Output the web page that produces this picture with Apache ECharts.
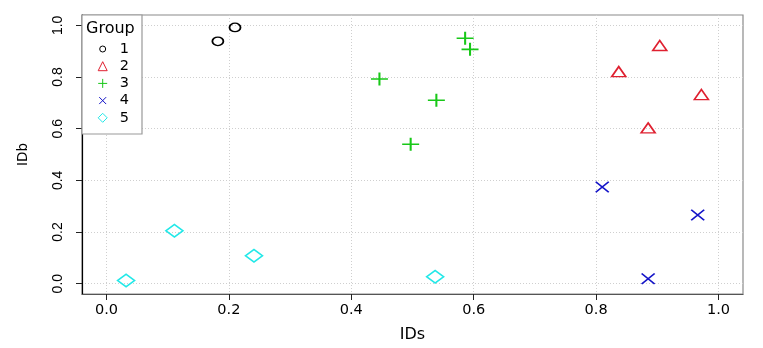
<!DOCTYPE html>
<html>
<head>
<meta charset="utf-8">
<script src="https://cdn.jsdelivr.net/npm/echarts@6/dist/echarts.min.js"></script>
<style>
  html, body { margin: 0; padding: 0; background: #fff; }
  #chart { width: 763px; height: 348px; }
</style>
</head>
<body>
<div id="chart"></div>
<script>
// values
var groups = ['1', '2', '3', '4', '5'];
var g1x = [0.182, 0.210];
var g1y = [0.938, 0.992];
var g2x = [0.837, 0.904, 0.972, 0.885];
var g2y = [0.821, 0.922, 0.732, 0.603];
var g3x = [0.446, 0.497, 0.539, 0.586, 0.594];
var g3y = [0.792, 0.540, 0.710, 0.950, 0.907];
var g4x = [0.810, 0.885, 0.966];
var g4y = [0.374, 0.019, 0.266];
var g5x = [0.032, 0.111, 0.241, 0.537];
var g5y = [0.012, 0.205, 0.108, 0.027];
var xTicks = [0, 0.2, 0.4, 0.6, 0.8, 1.0];
var yTicks = [0, 0.2, 0.4, 0.6, 0.8, 1.0];

var FONT = 'DejaVu Sans';

// R-like pch shapes
var shapes = {
    circle: 'path://M0,-1 A1,1 0 1,1 0,1 A1,1 0 1,1 0,-1 Z',
    triangle: 'path://M0,-1 L1,1 L-1,1 Z',
    plus: 'path://M0,-1 L0,1 M-1,0 L1,0',
    cross: 'path://M-1,-1 L1,1 M-1,1 L1,-1',
    diamond: 'path://M0,-1 L1,0 L0,1 L-1,0 Z'
};

// legend keys are smaller for circle and x, padded with invisible move points
var legendIcons = [
    'path://M-1.7,-1.5 M1.7,1.5 M0,-1 A1,1 0 1,1 0,1 A1,1 0 1,1 0,-1 Z',
    'path://M0,-1 L1,1 L-1,1 Z',
    'path://M0,-1 L0,1 M-1,0 L1,0',
    'path://M-1.5,-1.3 M1.5,1.3 M-1,-1 L1,1 M-1,1 L1,-1',
    'path://M0,-1 L1,0 L0,1 L-1,0 Z'
];

function pairs(xs, ys) {
    return xs.map(function (x, i) { return [x, ys[i]]; });
}

function makeSeries(name, xs, ys, symbol, size, color, width) {
    return {
        name: name,
        type: 'scatter',
        data: pairs(xs, ys),
        symbol: symbol,
        symbolSize: size,
        symbolKeepAspect: false,
        itemStyle: {
            color: 'transparent',
            borderColor: color,
            borderWidth: width,
            opacity: 1
        },
        emphasis: {disabled: true}
    };
}

var series = [
    makeSeries('1', g1x, g1y, shapes.circle, [11, 8.5], '#000000', 1.6),
    makeSeries('2', g2x, g2y, shapes.triangle, [14, 10], '#DF2030', 1.6),
    makeSeries('3', g3x, g3y, shapes.plus, [17, 13], '#18C818', 1.8),
    makeSeries('4', g4x, g4y, shapes.cross, [13, 10.5], '#1414C8', 1.6),
    makeSeries('5', g5x, g5y, shapes.diamond, [17, 12.5], '#22E8E8', 1.6)
];

var chart = echarts.init(document.getElementById('chart'));
chart.setOption({
    animation: false,
    backgroundColor: '#fff',
    grid: {
        left: 82, right: 20, top: 15, bottom: 54,
        show: true, borderColor: '#8a8a8a', borderWidth: 1.2,
        backgroundColor: 'transparent'
    },
    xAxis: {
        type: 'value',
        min: -0.04, max: 1.04,
        name: 'IDs',
        nameLocation: 'middle',
        nameGap: 33,
        nameTextStyle: {fontFamily: FONT, fontSize: 16, color: '#000'},
        axisLine: {show: true, onZero: false, lineStyle: {color: '#555', width: 1.2}},
        axisTick: {show: true, length: 6, customValues: xTicks, lineStyle: {color: '#222'}},
        axisLabel: {
            customValues: xTicks, margin: 9,
            fontFamily: FONT, fontSize: 14.5, color: '#000',
            formatter: function (v) { return v.toFixed(1); }
        },
        splitLine: {show: true, lineStyle: {color: '#cfcfcf', type: [1, 2], width: 1}}
    },
    yAxis: {
        type: 'value',
        min: -0.04, max: 1.04,
        name: 'IDb',
        nameLocation: 'middle',
        nameGap: 52,
        nameRotate: 90,
        nameTextStyle: {fontFamily: FONT, fontSize: 13.5, color: '#000'},
        axisLine: {show: true, onZero: false, lineStyle: {color: '#000', width: 1.2}},
        axisTick: {show: true, length: 6, customValues: yTicks, lineStyle: {color: '#222'}},
        axisLabel: {
            customValues: yTicks, rotate: 90, margin: 17,
            fontFamily: 'Liberation Sans', fontSize: 14, color: '#000',
            formatter: function (v) { return v.toFixed(1); }
        },
        splitLine: {show: true, lineStyle: {color: '#cfcfcf', type: [1, 2], width: 1}}
    },
    legend: {
        orient: 'vertical',
        left: 97, top: 41,
        padding: 0,
        z: 4,
        itemWidth: 12, itemHeight: 9,
        itemGap: 1.2,
        selectedMode: false,
        itemStyle: {borderWidth: 1},
        textStyle: {fontFamily: FONT, fontSize: 14.5, color: '#000', lineHeight: 16, padding: [0, 0, 0, 6]},
        data: groups.map(function (g, i) { return {name: g, icon: legendIcons[i]}; })
    },
    graphic: [
        {
            type: 'rect', z: 3, silent: true,
            shape: {x: 82, y: 15, width: 60, height: 119},
            style: {fill: '#fff', stroke: '#999', lineWidth: 1.2}
        },
        {
            type: 'text', z: 6, silent: true,
            x: 86, y: 29,
            style: {text: 'Group', fontFamily: FONT, fontSize: 16, fill: '#000', verticalAlign: 'middle'}
        }
    ],
    series: series
});
</script>
</body>
</html>
